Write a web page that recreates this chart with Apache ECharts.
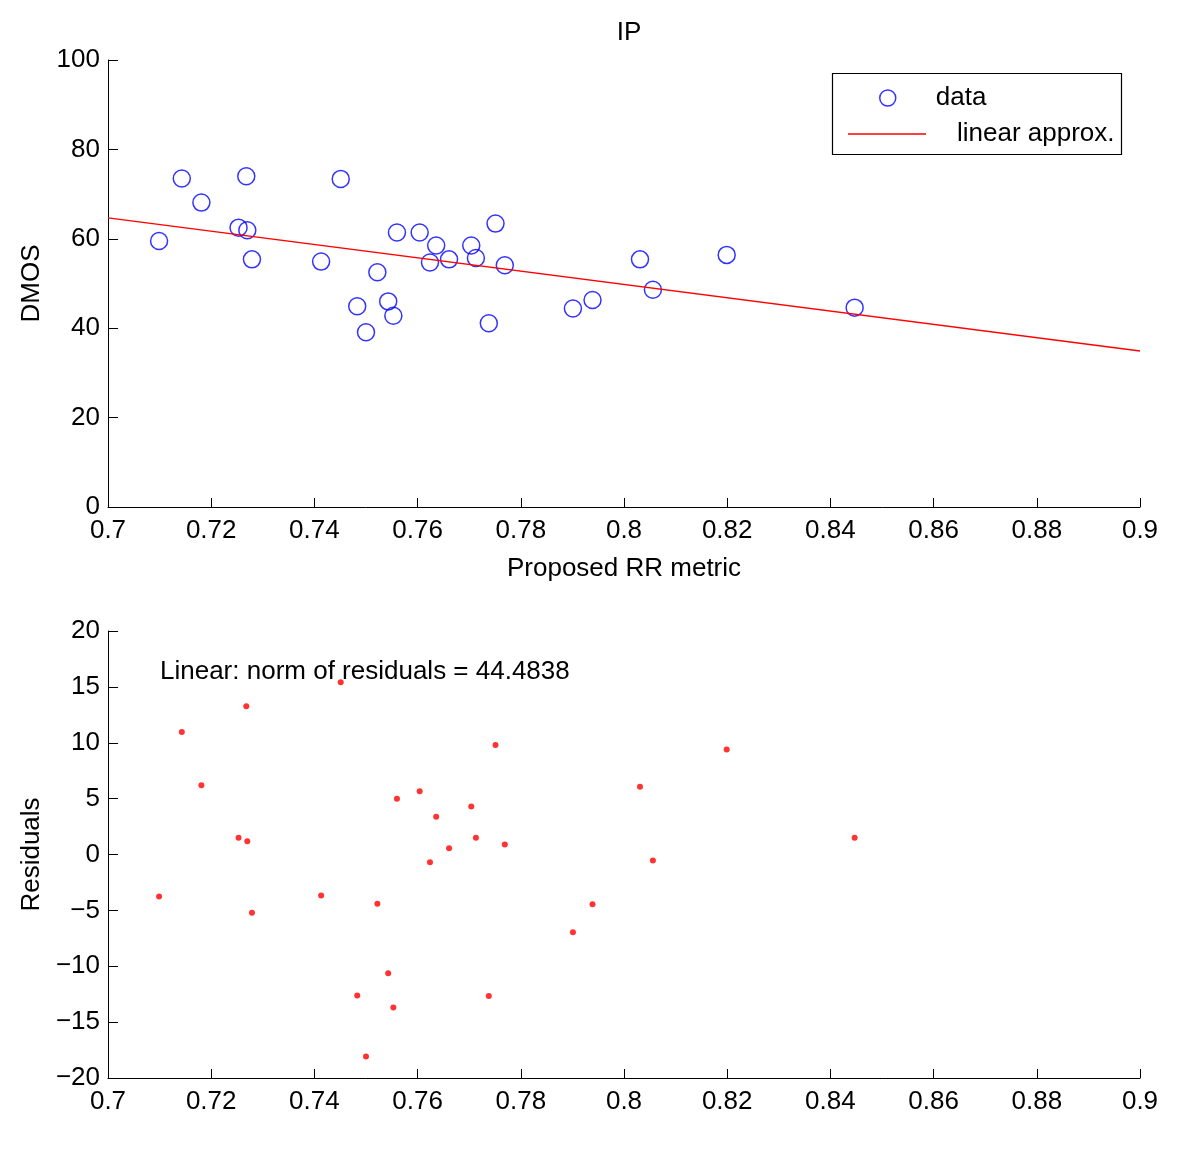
<!DOCTYPE html>
<html>
<head>
<meta charset="utf-8">
<script src="https://cdn.jsdelivr.net/npm/echarts@6/dist/echarts.min.js"></script>
<style>html,body{margin:0;padding:0;background:#fff}#c{width:1200px;height:1150px}</style>
</head>
<body>
<div id="c"></div>
<script>
// Proposed RR metric values
const metric = [0.7099,0.7143,0.7181,0.7253,0.7268,0.7270,0.7279,0.7413,0.7451,0.7483,0.7500,0.7522,0.7543,0.7553,0.7560,0.7604,0.7624,0.7636,0.7661,0.7704,0.7713,0.7738,0.7751,0.7769,0.7901,0.7939,0.8031,0.8056,0.8199,0.8447];
// DMOS values
const dmos = [59.5,73.5,68.1,62.5,74.0,61.9,55.4,54.9,73.4,44.9,39.1,52.5,46.0,42.8,61.4,61.4,54.7,58.5,55.4,58.5,55.7,41.1,63.4,54.1,44.4,46.3,55.4,48.6,56.4,44.6];
// Residuals
const residuals = [-3.76,10.97,6.20,1.49,13.26,1.19,-5.21,-3.67,15.41,-12.61,-18.07,-4.40,-10.62,-13.69,4.98,5.66,-0.69,3.38,0.55,4.29,1.50,-12.67,9.79,0.89,-6.95,-4.45,6.06,-0.54,9.39,1.49];
// Linear approximation endpoints
const fitX = [0.7, 0.9];
const fitY = [64.7, 34.9];
// Tick labels
const xTicks = ['0.7','0.72','0.74','0.76','0.78','0.8','0.82','0.84','0.86','0.88','0.9'];
const dmosTicks = ['0','20','40','60','80','100'];
const residTicks = ['\u221220','\u221215','\u221210','\u22125','0','5','10','15','20'];
const normText = 'Linear: norm of residuals = 44.4838';

const FONT = 'Liberation Sans, Arial, Helvetica, sans-serif';
const FS = 26;
const axisLineStyle = {lineStyle:{color:'#000', width:1}};
function xAxis(gridIndex, name){
  return {
    type:'value', gridIndex, min:0.7, max:0.9, interval:0.02,
    name: name || '', nameLocation:'middle', nameGap:49,
    nameTextStyle:{color:'#000', fontSize:FS, fontFamily:FONT},
    axisLine:{show:true, onZero:false, ...axisLineStyle},
    axisTick:{show:true, inside:true, length:9, lineStyle:{color:'#000'}},
    splitLine:{show:false},
    axisLabel:{color:'#000', fontSize:FS, fontFamily:FONT, margin:11,
      formatter:(v)=>xTicks[Math.round((v-0.7)/0.02)]}
  };
}
const chart = echarts.init(document.getElementById('c'), null, {renderer:'canvas'});
chart.setOption({
  animation:false,
  backgroundColor:'#fff',
  title:{text:'IP', left:624, top:15, textAlign:'center',
    textStyle:{color:'#000', fontSize:FS, fontWeight:'normal', fontFamily:FONT}},
  grid:[
    {left:108, right:60, top:60, height:447},
    {left:108, right:60, top:631, height:447}
  ],
  xAxis:[xAxis(0,'Proposed RR metric'), xAxis(1,'')],
  yAxis:[
    {type:'value', gridIndex:0, min:0, max:100, interval:20,
     name:'DMOS', nameLocation:'middle', nameGap:63,
     nameTextStyle:{color:'#000', fontSize:FS, fontFamily:FONT},
     axisLine:{show:true, onZero:false, ...axisLineStyle},
     axisTick:{show:true, inside:true, length:10, lineStyle:{color:'#000'}},
     splitLine:{show:false},
     axisLabel:{color:'#000', fontSize:FS, fontFamily:FONT, margin:8,
       formatter:(v)=>dmosTicks[Math.round(v/20)]}},
    {type:'value', gridIndex:1, min:-20, max:20, interval:5,
     name:'Residuals', nameLocation:'middle', nameGap:63,
     nameTextStyle:{color:'#000', fontSize:FS, fontFamily:FONT},
     axisLine:{show:true, onZero:false, ...axisLineStyle},
     axisTick:{show:true, inside:true, length:10, lineStyle:{color:'#000'}},
     splitLine:{show:false},
     axisLabel:{color:'#000', fontSize:FS, fontFamily:FONT, margin:8,
       formatter:(v)=>residTicks[Math.round((v+20)/5)]}}
  ],
  legend:[
    {data:[{name:'data', icon:'circle', itemStyle:{color:'#fff', borderColor:'#0000ff', borderWidth:1.5}}],
     left:879, top:85, padding:0, itemWidth:16, itemHeight:16,
     textStyle:{color:'#000', fontSize:FS, fontFamily:FONT, padding:[0,0,0,35]}, selectedMode:false},
    {data:[{name:'linear approx.', icon:'rect', itemStyle:{color:'#ff0000'}}],
     left:848, top:121, padding:0, itemWidth:78, itemHeight:1.3,
     textStyle:{color:'#000', fontSize:FS, fontFamily:FONT, padding:[0,0,0,26]}, selectedMode:false}
  ],
  graphic:[
    {type:'rect', shape:{x:832.5, y:73.5, width:289, height:81}, style:{fill:'none', stroke:'#000', lineWidth:1.2}, z:0},
    {type:'text', left:160, top:659, style:{text:normText, fill:'#000', font:FS+'px '+FONT}}
  ],
  series:[
    {name:'data', type:'scatter', xAxisIndex:0, yAxisIndex:0,
     symbol:'circle', symbolSize:17,
     itemStyle:{color:'rgba(255,255,255,0)', borderColor:'#0000ff', borderWidth:1.5},
     data: metric.map((x,i)=>[x, dmos[i]])},
    {name:'linear approx.', type:'line', xAxisIndex:0, yAxisIndex:0,
     symbol:'none', showSymbol:false, lineStyle:{color:'#ff0000', width:1.3}, itemStyle:{color:'#ff0000'},
     data: fitX.map((x,i)=>[x, fitY[i]])},
    {name:'residuals', type:'scatter', xAxisIndex:1, yAxisIndex:1,
     symbol:'circle', symbolSize:6, itemStyle:{color:'#ff0000'},
     data: metric.map((x,i)=>[x, residuals[i]])}
  ]
});
</script>
</body>
</html>
